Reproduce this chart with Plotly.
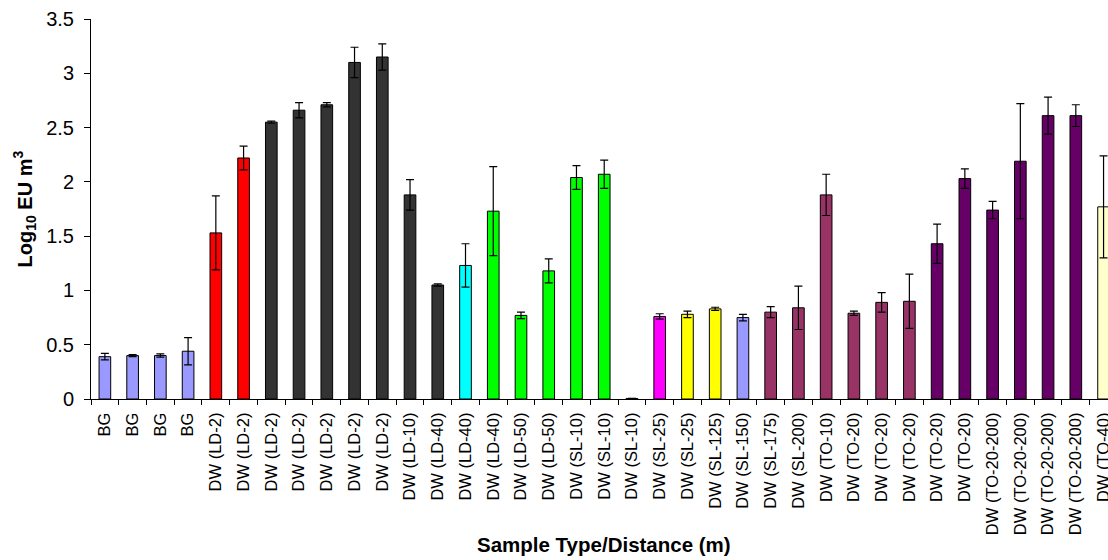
import plotly.graph_objects as go

labels = ["BG", "BG", "BG", "BG",
          "DW (LD-2)", "DW (LD-2)", "DW (LD-2)", "DW (LD-2)", "DW (LD-2)", "DW (LD-2)", "DW (LD-2)",
          "DW (LD-10)", "DW (LD-40)", "DW (LD-40)", "DW (LD-40)", "DW (LD-50)", "DW (LD-50)",
          "DW (SL-10)", "DW (SL-10)", "DW (SL-10)", "DW (SL-25)", "DW (SL-25)",
          "DW (SL-125)", "DW (SL-150)", "DW (SL-175)", "DW (SL-200)",
          "DW (TO-10)", "DW (TO-20)", "DW (TO-20)", "DW (TO-20)", "DW (TO-20)", "DW (TO-20)",
          "DW (TO-20-200)", "DW (TO-20-200)", "DW (TO-20-200)", "DW (TO-20-200)", "DW (TO-40)"]

values = [0.39, 0.40, 0.40, 0.44,
          1.53, 2.22, 2.55, 2.66, 2.71, 3.10, 3.15,
          1.88, 1.05, 1.23, 1.73, 0.77, 1.18,
          2.04, 2.07, 0.005, 0.76, 0.78,
          0.83, 0.75, 0.80, 0.84,
          1.88, 0.79, 0.89, 0.90, 1.43, 2.03,
          1.74, 2.19, 2.61, 2.61, 1.77]

errors = [0.03, 0.01, 0.015, 0.125,
          0.34, 0.11, 0.01, 0.07, 0.02, 0.14, 0.12,
          0.14, 0.01, 0.20, 0.41, 0.03, 0.11,
          0.11, 0.13, 0.0, 0.025, 0.03,
          0.015, 0.03, 0.05, 0.20,
          0.19, 0.02, 0.09, 0.25, 0.18, 0.09,
          0.08, 0.53, 0.17, 0.10, 0.47]

colors = (["#9999FF"] * 4 + ["#FF0000"] * 2 + ["#333333"] * 7 + ["#00FFFF"] +
          ["#00FF00"] * 6 + ["#FF00FF"] + ["#FFFF00"] * 2 + ["#9999FF"] +
          ["#993366"] * 6 + ["#660066"] * 6 + ["#FFFFCC"])

ytick_vals = [0, 0.5, 1, 1.5, 2, 2.5, 3, 3.5]
ytick_text = ["0", "0.5", "1", "1.5", "2", "2.5", "3", "3.5"]

idx = list(range(len(labels)))
bounds = [i - 0.5 for i in range(len(labels) + 1)]

FONT = "Liberation Sans, Arial, sans-serif"

fig = go.Figure()
fig.add_trace(go.Bar(
    x=idx, y=values,
    marker=dict(color=colors, line=dict(color="#000000", width=1)),
    width=0.42,
    error_y=dict(type="data", array=errors, visible=True, color="#000000", thickness=1.2, width=4),
    showlegend=False,
    cliponaxis=True,
))

fig.update_layout(
    width=1108, height=560,
    margin=dict(l=91, r=0, t=19, b=161, autoexpand=False),
    paper_bgcolor="white", plot_bgcolor="white",
    font=dict(family=FONT, color="#000000"),
    xaxis=dict(
        range=[-0.5, 36.16], automargin=False,
        tickmode="array", tickvals=idx, ticktext=labels,
        tickangle=-90, tickfont=dict(size=16.5, family=FONT),
        ticklabeloverflow="allow",
        ticks="outside", ticklen=6, tickcolor="rgba(0,0,0,0)",
        showline=True, linecolor="#000000", linewidth=1,
        showgrid=False, zeroline=False,
        minor=dict(tickmode="array", tickvals=bounds, ticks="outside", ticklen=5,
                   tickcolor="#000000", tickwidth=1, showgrid=False),
    ),
    yaxis=dict(
        range=[0, 3.5], automargin=False,
        tickmode="array", tickvals=ytick_vals, ticktext=ytick_text,
        tickfont=dict(size=20, family=FONT),
        ticks="outside", ticklen=6, tickcolor="#000000",
        ticklabelstandoff=6,
        showline=True, linecolor="#000000", linewidth=1,
        showgrid=False, zeroline=False,
    ),
    annotations=[
        dict(text="<b>Sample Type/Distance (m)</b>", xref="paper", yref="paper",
             x=0.504, y=-0.384, xanchor="center", yanchor="middle", showarrow=False,
             font=dict(size=20.5, family=FONT)),
        dict(text="<b>Log<sub>10</sub> EU m<sup>3</sup></b>", xref="paper", yref="paper",
             x=-0.0654, y=0.5, xanchor="center", yanchor="middle", showarrow=False,
             textangle=-90, font=dict(size=20, family=FONT)),
    ],
)

fig.write_html(
    "out.html",
    config={"displayModeBar": False},
    post_script="document.body.style.margin='0';document.body.style.overflow='hidden';",
)
